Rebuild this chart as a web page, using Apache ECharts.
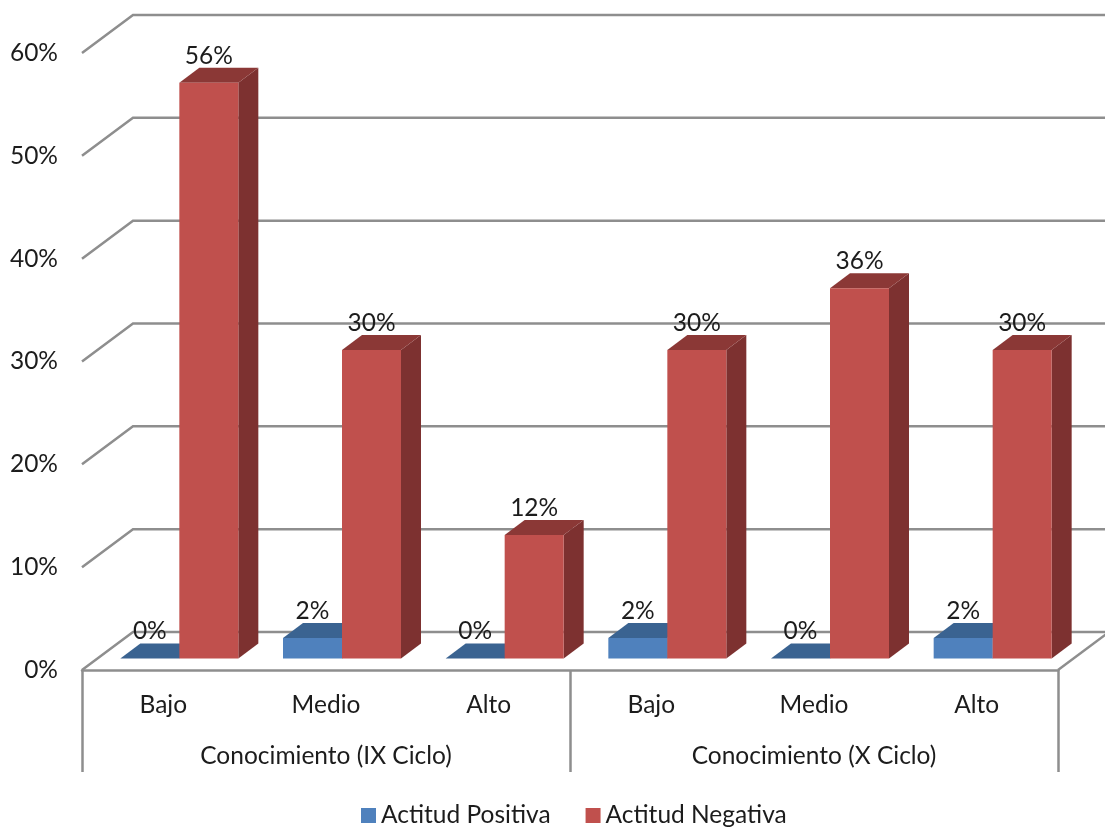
<!DOCTYPE html>
<html>
<head>
<meta charset="utf-8">
<style>html,body{margin:0;padding:0;background:#fff}#chart{width:1105px;height:830px}</style>
<script src="https://cdn.jsdelivr.net/npm/echarts@6/dist/echarts.min.js"></script>
</head>
<body>
<div id="chart"></div>
<script>
// Survey results: attitude by knowledge level, for two study cycles
const levels = ['Bajo', 'Medio', 'Alto', 'Bajo', 'Medio', 'Alto'];
const cycles = ['Conocimiento (IX Ciclo)', 'Conocimiento (X Ciclo)'];
const positiveValues = [0, 2, 0, 2, 0, 2];
const negativeValues = [56, 30, 12, 30, 36, 30];
const wallTicks = [0, 10, 20, 30, 40, 50, 60];

const FONT = 'Lato, "Open Sans", sans-serif';
const FONT_SIZE = 24.5;
const TEXT = '#1c1c1c';
const RULE = '#8e8e8e';
const RULE_W = 2.5;

// Perspective of the oblique box
const WALL_DX = 51, WALL_DY = -38;     // back wall relative to the front plane
const BAR_DX = 20, BAR_DY = -15;       // depth of one bar
const BAR_LIFT = 11.5;                 // bars stand inside the floor
const BAR_W = 59, BAR_SHIFT = 16;      // width and shift of the pair from the band centre

function wallLine(params, api) {
  const v = api.value(1);
  const p = api.coord([0, v]);
  const cs = params.coordSys;
  const x0 = cs.x, y0 = p[1];
  const x1 = x0 + WALL_DX, y1 = y0 + WALL_DY;
  const style = { stroke: RULE, lineWidth: RULE_W, fill: null };
  const children = [{
    type: 'polyline',
    shape: { points: [[x0, y0], [x1, y1], [cs.x + cs.width + WALL_DX, y1]] },
    style
  }];
  if (v === 0) {
    children.push({
      type: 'line',
      shape: { x1: cs.x + cs.width, y1: y0, x2: cs.x + cs.width + WALL_DX, y2: y1 },
      style
    });
  }
  return { type: 'group', children };
}

function barRenderer(slot, front, top, side) {
  return function (params, api) {
    const i = api.value(0), v = api.value(1);
    const c = api.coord([i, v]);
    const base = api.coord([i, 0])[1] - BAR_LIFT;
    const yTop = c[1] - BAR_LIFT;
    const xL = c[0] + BAR_SHIFT + (slot - 1) * BAR_W;
    const xR = xL + BAR_W;
    const children = [];
    children.push({
      type: 'polygon',
      shape: { points: [[xR, yTop], [xR + BAR_DX, yTop + BAR_DY], [xR + BAR_DX, base + BAR_DY], [xR, base]] },
      style: { fill: side }
    });
    children.push({
      type: 'polygon',
      shape: { points: [[xL, yTop], [xL + BAR_DX, yTop + BAR_DY], [xR + BAR_DX, yTop + BAR_DY], [xR, yTop]] },
      style: { fill: top }
    });
    children.push({
      type: 'rect',
      shape: { x: xL, y: yTop, width: BAR_W, height: base - yTop },
      style: { fill: front }
    });
    children.push({
      type: 'text',
      z2: 50,
      style: {
        text: v + '%', x: (xL + xR) / 2, y: yTop - 27,
        align: 'center', verticalAlign: 'middle',
        fill: TEXT, font: FONT_SIZE + 'px ' + FONT
      }
    });
    return { type: 'group', children };
  };
}

const chart = echarts.init(document.getElementById('chart'), null, { renderer: 'canvas' });
chart.setOption({
  animation: false,
  backgroundColor: '#ffffff',
  textStyle: { fontFamily: FONT, fontSize: FONT_SIZE, color: TEXT },
  grid: { left: 82, top: 53, width: 976, height: 617 },
  legend: {
    data: ['Actitud Positiva', 'Actitud Negativa'],
    left: 361, top: 803, icon: 'rect',
    itemWidth: 15, itemHeight: 15, itemGap: 35,
    textStyle: { fontFamily: FONT, fontSize: FONT_SIZE, color: TEXT },
    selectedMode: false, padding: 0
  },
  xAxis: [
    {
      type: 'category', data: levels, position: 'bottom',
      axisLine: { show: true, lineStyle: { color: RULE, width: RULE_W } },
      axisTick: { show: false },
      axisLabel: { interval: 0, margin: 23, color: TEXT, fontFamily: FONT, fontSize: FONT_SIZE }
    },
    {
      type: 'category', data: cycles, position: 'bottom',
      axisLine: { show: false },
      axisTick: { show: true, length: 102, lineStyle: { color: RULE, width: RULE_W } },
      axisLabel: { interval: 0, margin: 74, color: TEXT, fontFamily: FONT, fontSize: FONT_SIZE }
    }
  ],
  yAxis: {
    type: 'value', min: 0, max: 60, interval: 10,
    axisLine: { show: false }, axisTick: { show: false }, splitLine: { show: false },
    axisLabel: { formatter: '{value}%', margin: 24, padding: [2, 0, 0, 0], color: TEXT, fontFamily: FONT, fontSize: FONT_SIZE }
  },
  series: [
    {
      type: 'custom', name: 'walls', silent: true, clip: false, z: 1,
      renderItem: wallLine,
      data: wallTicks.map(v => [0, v])
    },
    {
      type: 'custom', name: 'Actitud Positiva', clip: false, z: 2,
      itemStyle: { color: '#4f81bd' },
      renderItem: barRenderer(0, '#4f81bd', '#3a6391', '#2f5078'),
      data: positiveValues.map((v, i) => [i, v])
    },
    {
      type: 'custom', name: 'Actitud Negativa', clip: false, z: 3,
      itemStyle: { color: '#c0504d' },
      renderItem: barRenderer(1, '#c0504d', '#8b3836', '#7d3130'),
      data: negativeValues.map((v, i) => [i, v])
    }
  ]
});
</script>
</body>
</html>
